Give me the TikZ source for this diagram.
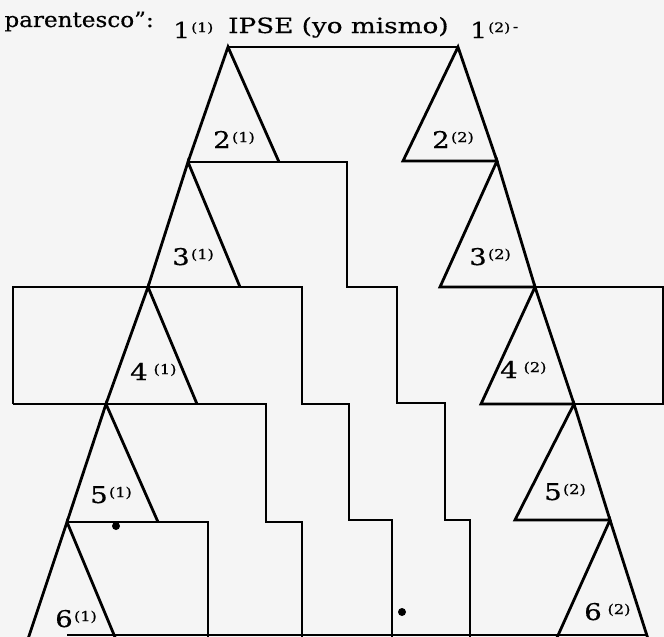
\documentclass[tikz,border=0pt]{standalone}
\usepackage{fontspec}
\setmainfont{DejaVu Serif}[FakeBold=0.4]
\newcommand{\kinlab}[2]{\scalebox{1.2}[1]{\fontsize{23}{23}\selectfont #1\kern1pt\raisebox{6pt}{\fontsize{13.5}{13.5}\selectfont(#2)}}}
\newcommand{\toplab}[2]{\scalebox{1.2}[1]{\fontsize{22}{22}\selectfont #1\kern1pt\raisebox{6pt}{\fontsize{13}{13}\selectfont(#2)}}}
\newcommand{\bigtxt}[1]{\scalebox{1.25}[1]{\fontsize{21}{21}\selectfont #1}}
\tikzset{
  ln/.style={line width=2.8pt, line join=miter, line cap=butt},
  lab/.style={anchor=base west, inner sep=0pt},
  speck/.style={fill=black, draw=none}
}
\begin{document}
\begin{tikzpicture}[x=1pt, y=-1pt]
\clip (0,0) rectangle (664,637);
\fill[black!4] (0,0) rectangle (664,637);
% apexes of the two lines
\coordinate (A1) at (228,47);
\coordinate (B1) at (458,47);
% left line
\coordinate (L2l) at (188,162); \coordinate (L2r) at (279,162);
\coordinate (L3l) at (148,287); \coordinate (L3r) at (240,287);
\coordinate (L4l) at (106,404); \coordinate (L4r) at (197,404);
\coordinate (L5l) at (67,522);  \coordinate (L5r) at (158,522);
\coordinate (L6l) at (27,642);  \coordinate (L6r) at (117,642);
% right line
\coordinate (R2l) at (403,161); \coordinate (R2r) at (497,161);
\coordinate (R3l) at (440,287); \coordinate (R3r) at (535,287);
\coordinate (R4l) at (481,404); \coordinate (R4r) at (574,404);
\coordinate (R5l) at (515,520); \coordinate (R5r) at (610,520);
\coordinate (R6l) at (555,642); \coordinate (R6r) at (649,642);

% top bar
\draw[ln] (A1) -- (B1);

% left triangles (sides)
\draw[ln] (L2l) -- (A1) -- (L2r);
\draw[ln] (L3l) -- (L2l) -- (L3r);
\draw[ln] (L4l) -- (L3l) -- (L4r);
\draw[ln] (L5l) -- (L4l) -- (L5r);
\draw[ln] (L6l) -- (L5l) -- (L6r);

% staircase outlines
\draw[ln] (L2l) -- (347,162) -- (347,287) -- (397,287) -- (397,403) -- (445,403) -- (445,520) -- (470,520) -- (470,640);
\draw[ln] (13,404) -- (13,287) -- (302,287) -- (302,404) -- (349,404) -- (349,520) -- (392,520) -- (392,640);
\draw[ln] (13,404) -- (266,404) -- (266,522) -- (302,522) -- (302,640);
\draw[ln] (L5l) -- (208,522) -- (208,640);
\draw[ln] (67,635) -- (647,635);

% right triangles
\draw[ln] (B1) -- (R2l) -- (R2r) -- cycle;
\draw[ln] (R2r) -- (R3l) -- (R3r) -- cycle;
\draw[ln] (R3r) -- (R4l) -- (R4r) -- cycle;
\draw[ln] (R4r) -- (R5l) -- (R5r) -- cycle;
\draw[ln] (R6l) -- (R5r) -- (R6r);
\draw[ln] (R3r) -- (663,287) -- (663,404) -- (R4r);

% specks
\fill[speck] (116,526) circle (4pt);
\fill[speck] (402,612) circle (4pt);

% texts
\node[anchor=base east, inner sep=0pt] (par) at (154,27) {\scalebox{1.1}[1]{\fontsize{21}{21}\selectfont parentesco”:}};
\node[lab] (one1) at (173,38) {\toplab{1}{1}};
\node[lab] (ipse) at (228,33) {\bigtxt{IPSE (yo mismo)}};
\node[lab] (one2) at (470,38) {\toplab{1}{2}\scalebox{1.2}[1]{\fontsize{13}{13}\selectfont\raisebox{7pt}{\,-}}};

\node[lab] (t21) at (213,148) {\kinlab{2}{1}};
\node[lab] (t22) at (432,148) {\kinlab{2}{2}};
\node[lab] (t31) at (172,265) {\kinlab{3}{1}};
\node[lab] (t32) at (469,265) {\kinlab{3}{2}};
\node[lab] (t41) at (130,380) {\kinlab{4\,}{1}};
\node[lab] (t42) at (500,378) {\kinlab{4\,}{2}};
\node[lab] (t51) at (90,503)  {\kinlab{5}{1}};
\node[lab] (t52) at (544,500) {\kinlab{5}{2}};
\node[lab] (t61) at (55,627)  {\kinlab{6}{1}};
\node[lab] (t62) at (584,620) {\kinlab{6\,}{2}};
\end{tikzpicture}
\end{document}
